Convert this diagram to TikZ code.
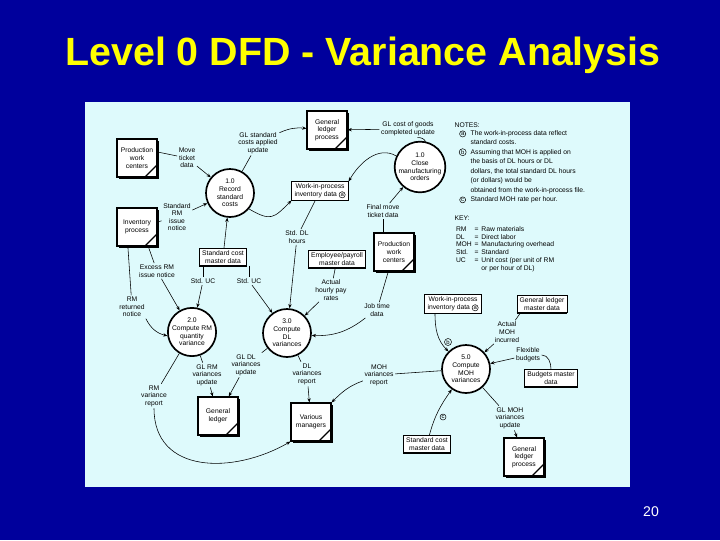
\documentclass[tikz,border=0pt]{standalone}
\usepackage{fontspec}
\setmainfont{Liberation Sans}
\usetikzlibrary{arrows.meta, positioning, shadows}

\definecolor{slideblue}{RGB}{0,0,156}
\definecolor{panelcyan}{RGB}{222,250,252}
\definecolor{titleyellow}{RGB}{255,255,0}

\newcommand{\circl}[1]{\tikz[baseline=(cl.base)]\node[draw, circle, inner sep=0.4pt, line width=0.35pt, font=\fontsize{4.2}{4.5}\selectfont] (cl) {#1};}

\begin{document}
\begin{tikzpicture}[x=0.025cm, y=0.025cm,
  font=\fontsize{4.8}{5.4}\selectfont,
  every node/.style={align=center, inner sep=1pt},
  proc/.style={circle, draw, very thick, fill=white, minimum size=1.2cm, inner sep=0pt},
  ent/.style={draw, thick, fill=white, minimum width=1cm, minimum height=0.95cm,
    drop shadow={shadow xshift=1.2pt, shadow yshift=-1.2pt, opacity=1, fill=black},
    path picture={\draw[thick] ([xshift=-0.3cm]path picture bounding box.south east) -- ([yshift=0.3cm]path picture bounding box.south east);}},
  store/.style={draw, fill=white, inner xsep=2pt, inner ysep=1.5pt},
  circ/.style={circle, draw, inner sep=0.4pt, line width=0.35pt, font=\fontsize{4.2}{4.5}\selectfont},
  flow/.style={-{Stealth[length=3pt, width=2.4pt]}}]

\fill[slideblue] (0,0) rectangle (720,-540);
\fill[panelcyan] (85,-102) rectangle (630,-487);
\node[font=\bfseries\fontsize{28}{33}\selectfont, text=titleyellow] (title) at (363,-55) {Level 0 DFD - Variance Analysis};
\node[font=\fontsize{10}{12}\selectfont, text=white] (page) at (651,-512) {20};

\node[proc] (p1) at (230,-193) {1.0\\Record\\standard\\costs};
\node[proc] (p4) at (420,-167) {1.0\\Close\\manufacturing\\orders};
\node[proc] (p2) at (192,-332) {2.0\\Compute RM\\quantity\\variance};
\node[proc] (p3) at (287,-333) {3.0\\Compute\\DL\\variances};
\node[proc] (p5) at (466,-369) {5.0\\Compute\\MOH\\variances};

\node[ent] (pwc1) at (137,-158) {Production\\work\\centers};
\node[ent] (inv) at (137,-227) {Inventory\\process};
\node[ent] (glp1) at (327,-130) {General\\ledger\\process};
\node[ent] (pwc2) at (394,-252) {Production\\work\\centers};
\node[ent] (gl) at (218,-416) {General\\ledger};
\node[ent] (vm) at (311,-422) {Various\\managers};
\node[ent] (glp2) at (524,-457) {General\\ledger\\process};

\node[store] (scm1) at (223,-257) {Standard cost\\master data};
\node[store] (wip1) at (320,-191) {Work-in-process\\inventory data \circl{a}};
\node[store] (emp) at (337,-259) {Employee/payroll\\master data};
\node[store] (wip2) at (453,-304) {Work-in-process\\inventory data \circl{a}};
\node[store] (glmd) at (542,-304) {General ledger\\master data};
\node[store] (bmd) at (551,-378) {Budgets master\\data};
\node[store] (scm2) at (427,-444) {Standard cost\\master data};
\foreach \s in {scm1,wip1,emp,wip2,glmd,bmd,scm2}
  \draw[very thick] (\s.south west) -- (\s.south east);

\node (move) at (187,-158) {Move\\ticket\\data};
\node (glstd) at (258,-143) {GL standard\\costs applied\\update};
\node (stdrm) at (177,-217) {Standard\\RM\\issue\\notice};
\node (glcogs) at (408,-129) {GL cost of goods\\completed update};
\node (final) at (383,-211) {Final move\\ticket data};
\node (stddl) at (297,-237) {Std. DL\\hours};
\node (actpay) at (331,-290) {Actual\\hourly pay\\rates};
\node (job) at (377,-310) {Job time\\data};
\node (excess) at (157,-271) {Excess RM\\issue notice};
\node (rmret) at (132,-307) {RM\\returned\\notice};
\node (stduc1) at (203,-281) {Std. UC};
\node (stduc2) at (249,-281) {Std. UC};
\node (glrm) at (207,-375) {GL RM\\variances\\update};
\node (gldl) at (246,-365) {GL DL\\variances\\update};
\node (dlrep) at (307,-374) {DL\\variances\\report};
\node (mohrep) at (379,-375) {MOH\\variances\\report};
\node (rmrep) at (154,-396) {RM\\variance\\report};
\node (actmoh) at (507,-332) {Actual\\MOH\\incurred};
\node (flex) at (528,-355) {Flexible\\budgets};
\node (glmoh) at (510,-418) {GL MOH\\variances\\update};
\node[circ] (lb) at (448,-342) {b};
\node[circ] (lc) at (443,-417) {c};

\draw ([yshift=0.15cm]pwc1.east) -- (move);
\draw[flow] (move) -- (p1);
\draw (inv) -- (stdrm);
\draw[flow] (stdrm) -- (p1);
\draw (p1) -- (glstd);
\draw[flow] (glstd) to[bend left=15] (glp1);
\draw (p4) to[bend right=30] (glcogs);
\draw[flow] (glcogs) -- (glp1);
\draw[flow] (p4.155) to[out=150, in=60] (wip1.north east);
\draw[flow] (p1.-40) to[out=-30, in=225, looseness=1.5] (wip1.south west);
\draw[flow] (scm1) -- (p1);
\draw (final |- pwc2.north) -- (final);
\draw[flow] (final) -- (p4);
\draw (wip1) -- (stddl);
\draw[flow] (stddl) -- (p3);
\draw (emp) -- (actpay);
\draw[flow] (actpay) -- (p3);
\draw (pwc2) -- (job);
\draw[flow] (job) to[bend left=20] (p3);
\draw (inv.-60) -- (excess);
\draw[flow] (excess) -- (p2);
\draw (inv.-115) -- (rmret);
\draw[flow] (rmret.-40) to[bend right=25] (p2);
\draw (scm1.south -| stduc1) -- (stduc1);
\draw[flow] (stduc1) -- (p2);
\draw (scm1.south -| stduc2) -- (stduc2);
\draw[flow] (stduc2) -- (p3);
\draw (p2) -- (glrm);
\draw[flow] (glrm) -- (gl);
\draw (p3) -- (gldl);
\draw[flow] (gldl) -- (gl);
\draw (p2) -- (rmrep);
\draw[flow] (rmrep) to[out=-90, in=210, looseness=1.2] (vm.south west);
\draw (p3) -- (dlrep);
\draw[flow] (dlrep) -- (vm);
\draw (p5) -- (mohrep);
\draw[flow] (mohrep) to[out=200, in=45] (vm.north east);
\draw[flow] ([xshift=-0.45cm]wip2.south) to[out=-90, in=135] (p5);
\draw ([xshift=0.1cm]glmd.south west) -- (actmoh);
\draw[flow] (actmoh) -- (p5);
\draw (bmd) to[out=90, in=0] (flex);
\draw[flow] (flex) -- (p5);
\draw[flow] (scm2) to[out=75, in=235] (p5);
\draw (p5) -- (glmoh);
\draw[flow] (glmoh) -- (glp2);

\node[anchor=north west, align=left, font=\fontsize{4.8}{6.7}\selectfont] (notes) at (453,-121) {NOTES:\\
\begin{tabular}{@{\hspace{3pt}}c@{\hspace{3pt}}l@{}}
\circl{a} & The work-in-process data reflect\\
 & standard costs.\\
\circl{b} & Assuming that MOH is applied on\\
 & the basis of DL hours or DL\\
 & dollars, the total standard DL hours\\
 & (or dollars) would be\\
 & obtained from the work-in-process file.\\
\circl{c} & Standard MOH rate per hour.
\end{tabular}};
\node[anchor=north west, align=left, font=\fontsize{4.8}{5.5}\selectfont] (key) at (453,-214) {KEY:\\[3pt]
\begin{tabular}{@{\hspace{1pt}}l@{\hspace{2pt}}l@{\hspace{2pt}}l@{}}
RM & = & Raw materials\\
DL & = & Direct labor\\
MOH & = & Manufacturing overhead\\
Std. & = & Standard\\
UC & = & Unit cost (per unit of RM\\
 & & or per hour of DL)
\end{tabular}};
\end{tikzpicture}
\end{document}
